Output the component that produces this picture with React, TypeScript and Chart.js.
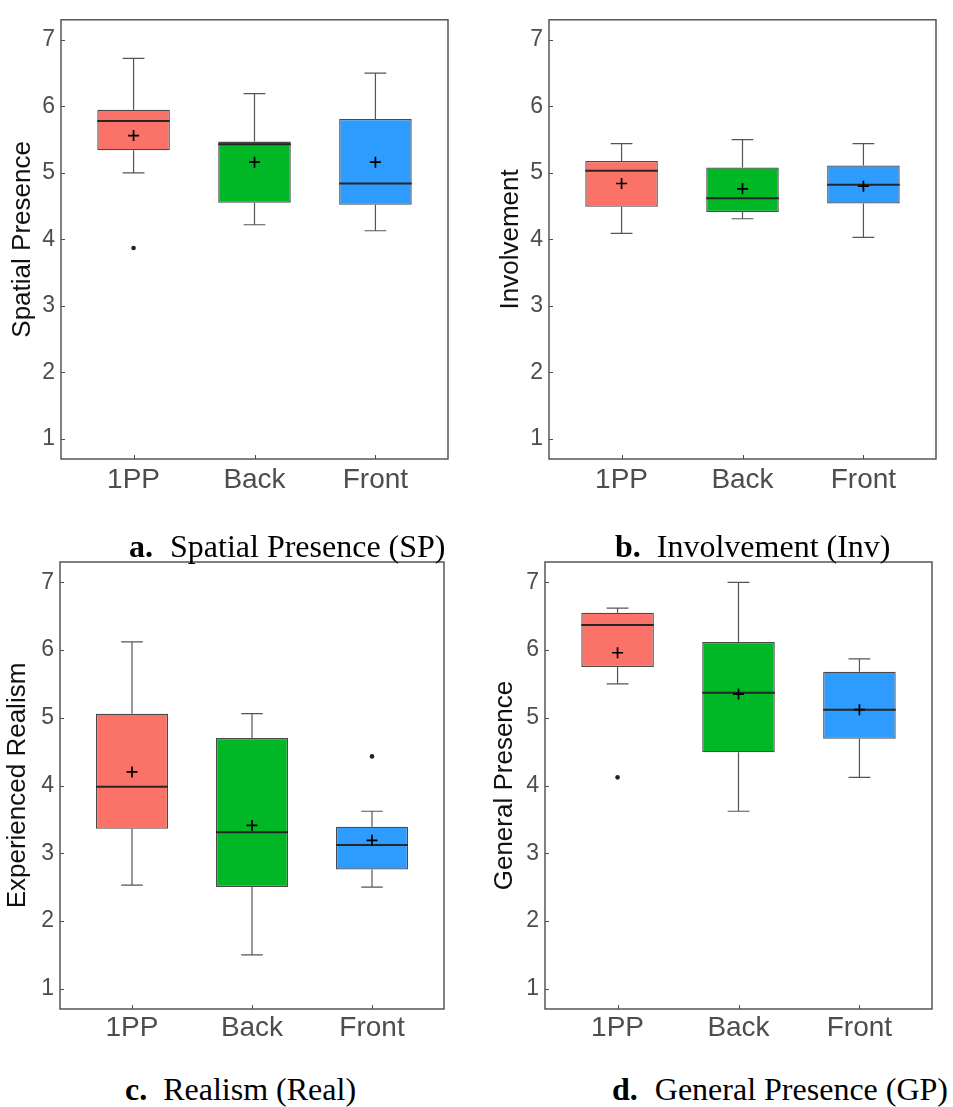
import React, { useEffect, useRef } from 'react';
import { Chart, registerables } from 'chart.js';

Chart.register(...registerables);

// ---------- data ----------
const CATEGORIES = ['1PP', 'Back', 'Front'];
const Y_TICKS = [1, 2, 3, 4, 5, 6, 7];

// a. Spatial Presence
const SP_MIN = [5.0, 4.22, 4.13];
const SP_Q1 = [5.34, 4.55, 4.52];
const SP_MED = [5.78, 5.43, 4.84];
const SP_Q3 = [5.95, 5.47, 5.81];
const SP_MAX = [6.72, 6.19, 6.5];
const SP_MEAN = [5.56, 5.16, 5.16];
const SP_OUT = [[3.87], [], []];

// b. Involvement
const INV_MIN = [4.09, 4.31, 4.03];
const INV_Q1 = [4.49, 4.41, 4.54];
const INV_MED = [5.03, 4.62, 4.82];
const INV_Q3 = [5.18, 5.08, 5.11];
const INV_MAX = [5.44, 5.5, 5.44];
const INV_MEAN = [4.84, 4.76, 4.8];
const INV_OUT = [[], [], []];

// c. Realism
const REAL_MIN = [2.53, 1.5, 2.5];
const REAL_Q1 = [3.36, 2.5, 2.76];
const REAL_MED = [3.98, 3.31, 3.12];
const REAL_Q3 = [5.06, 4.7, 3.39];
const REAL_MAX = [6.12, 5.06, 3.62];
const REAL_MEAN = [4.2, 3.41, 3.19];
const REAL_OUT = [[], [], [4.43]];

// d. General Presence
const GP_MIN = [5.5, 3.62, 4.12];
const GP_Q1 = [5.75, 4.49, 4.69];
const GP_MED = [6.37, 5.37, 5.12];
const GP_Q3 = [6.55, 6.12, 5.68];
const GP_MAX = [6.62, 7.0, 5.87];
const GP_MEAN = [5.96, 5.35, 5.12];
const GP_OUT = [[4.12], [], []];

// ---------- styles ----------
const BOX_COLORS = ['#FA7268', '#00B726', '#2E9BFF'];
const SANS = "'Liberation Sans', Arial, Helvetica, sans-serif";
const SERIF = "'Liberation Serif', 'Times New Roman', Times, serif";
const TICK_COLOR = '#4D4D4D';
const FRAME_COLOR = '#4A4A4A';

type PanelDef = {
  title: string;
  min: number[];
  q1: number[];
  med: number[];
  q3: number[];
  max: number[];
  mean: number[];
  out: number[][];
  box: { left: number; top: number; width: number; height: number };
  pad: { left: number; right: number; top: number };
  yWidth: number;
  xHeight: number;
  titleOffset: number;
  xPad: number;
};

const PANELS: PanelDef[] = [
  {
    title: 'Spatial Presence', min: SP_MIN, q1: SP_Q1, med: SP_MED, q3: SP_Q3, max: SP_MAX, mean: SP_MEAN, out: SP_OUT,
    box: { left: 0, top: 0, width: 470, height: 500 }, pad: { left: 0, right: 22, top: 12 }, yWidth: 61, xHeight: 41, titleOffset: 7, xPad: 4,
  },
  {
    title: 'Involvement', min: INV_MIN, q1: INV_Q1, med: INV_MED, q3: INV_Q3, max: INV_MAX, mean: INV_MEAN, out: INV_OUT,
    box: { left: 470, top: 0, width: 483, height: 500 }, pad: { left: 18, right: 17, top: 12 }, yWidth: 61, xHeight: 41, titleOffset: 7, xPad: 4,
  },
  {
    title: 'Experienced Realism', min: REAL_MIN, q1: REAL_Q1, med: REAL_MED, q3: REAL_Q3, max: REAL_MAX, mean: REAL_MEAN, out: REAL_OUT,
    box: { left: 0, top: 510, width: 470, height: 540 }, pad: { left: 0, right: 26, top: 52 }, yWidth: 60, xHeight: 41, titleOffset: 2.4, xPad: 2,
  },
  {
    title: 'General Presence', min: GP_MIN, q1: GP_Q1, med: GP_MED, q3: GP_Q3, max: GP_MAX, mean: GP_MEAN, out: GP_OUT,
    box: { left: 470, top: 510, width: 483, height: 540 }, pad: { left: 14, right: 21, top: 52 }, yWidth: 61, xHeight: 41, titleOffset: 5.7, xPad: 2,
  },
];

const CAPTIONS = [
  { label: 'a.', text: 'Spatial Presence (SP)', left: 129, top: 530, gap: 17 },
  { label: 'b.', text: 'Involvement (Inv)', left: 615, top: 530, gap: 16 },
  { label: 'c.', text: 'Realism (Real)', left: 125, top: 1073, gap: 16 },
  { label: 'd.', text: 'General Presence (GP)', left: 612, top: 1073, gap: 17 },
];

function makeExtras(p: PanelDef) {
  const capHalf = 0.09;
  const boxHalf = 0.3;
  return {
    id: 'boxExtras',
    beforeDatasetsDraw(chart: any) {
      const { ctx, scales } = chart;
      const x = scales.x, y = scales.y;
      ctx.save();
      ctx.strokeStyle = '#555555';
      ctx.lineWidth = 1.2;
      p.q1.forEach((_, i) => {
        const xc = x.getPixelForValue(i + 1);
        const xl = x.getPixelForValue(i + 1 - capHalf);
        const xr = x.getPixelForValue(i + 1 + capHalf);
        const yMax = y.getPixelForValue(p.max[i]);
        const yMin = y.getPixelForValue(p.min[i]);
        ctx.beginPath();
        ctx.moveTo(xc, y.getPixelForValue(p.q3[i]));
        ctx.lineTo(xc, yMax);
        ctx.moveTo(xl, yMax);
        ctx.lineTo(xr, yMax);
        ctx.moveTo(xc, y.getPixelForValue(p.q1[i]));
        ctx.lineTo(xc, yMin);
        ctx.moveTo(xl, yMin);
        ctx.lineTo(xr, yMin);
        ctx.stroke();
      });
      ctx.restore();
    },
    afterDatasetDraw(chart: any, args: any) {
      if (args.index !== 0) return;
      const { ctx, scales } = chart;
      const x = scales.x, y = scales.y;
      ctx.save();
      ctx.strokeStyle = '#262626';
      ctx.lineWidth = 2;
      p.med.forEach((m, i) => {
        const yy = y.getPixelForValue(m);
        ctx.beginPath();
        ctx.moveTo(x.getPixelForValue(i + 1 - boxHalf), yy);
        ctx.lineTo(x.getPixelForValue(i + 1 + boxHalf), yy);
        ctx.stroke();
      });
      ctx.restore();
    },
    afterDraw(chart: any) {
      const { ctx, chartArea: a, scales } = chart;
      const x = scales.x, y = scales.y;
      ctx.save();
      ctx.strokeStyle = TICK_COLOR;
      ctx.lineWidth = 1;
      ctx.beginPath();
      Y_TICKS.forEach((v) => {
        const yy = Math.round(y.getPixelForValue(v)) + 0.5;
        ctx.moveTo(a.left, yy);
        ctx.lineTo(a.left + 4, yy);
      });
      CATEGORIES.forEach((_, i) => {
        const xx = Math.round(x.getPixelForValue(i + 1)) + 0.5;
        ctx.moveTo(xx, a.bottom);
        ctx.lineTo(xx, a.bottom - 4);
      });
      ctx.stroke();
      ctx.strokeStyle = FRAME_COLOR;
      ctx.lineWidth = 1.4;
      ctx.strokeRect(a.left, a.top, a.right - a.left, a.bottom - a.top);
      ctx.restore();
    },
  };
}

function Panel({ p }: { p: PanelDef }) {
  const ref = useRef<HTMLCanvasElement | null>(null);
  useEffect(() => {
    if (!ref.current) return;
    const boxes = CATEGORIES.map((_, i) => ({ x: i + 1, y: [p.q1[i], p.q3[i]] }));
    const means = CATEGORIES.map((_, i) => ({ x: i + 1, y: p.mean[i] }));
    const outs: { x: number; y: number }[] = [];
    p.out.forEach((arr, i) => arr.forEach((v) => outs.push({ x: i + 1, y: v })));
    const chart = new Chart(ref.current, {
      type: 'bar',
      data: {
        datasets: [
          {
            type: 'bar',
            data: boxes as any,
            backgroundColor: BOX_COLORS,
            borderColor: '#4A4A4A',
            borderWidth: 1.3,
            borderSkipped: false,
            barPercentage: 0.6,
            categoryPercentage: 1,
            order: 3,
          } as any,
          {
            type: 'scatter',
            data: means,
            pointStyle: 'cross',
            pointRadius: 5.5,
            borderColor: '#000000',
            backgroundColor: '#000000',
            borderWidth: 1.7,
            order: 1,
          } as any,
          {
            type: 'scatter',
            data: outs,
            pointStyle: 'circle',
            pointRadius: 2.3,
            borderWidth: 0,
            backgroundColor: '#222222',
            order: 1,
          } as any,
        ],
      },
      options: {
        animation: false,
        responsive: false,
        events: [],
        layout: { padding: { left: p.pad.left, right: p.pad.right, top: p.pad.top, bottom: 0 } },
        plugins: { legend: { display: false }, tooltip: { enabled: false } },
        scales: {
          x: {
            type: 'linear',
            min: 0.4,
            max: 3.6,
            offset: false,
            grid: { display: false, drawTicks: false, offset: false },
            border: { display: false },
            ticks: {
              autoSkip: false,
              maxRotation: 0,
              padding: p.xPad,
              color: TICK_COLOR,
              font: { family: SANS, size: 28 },
              callback: (v: any) => CATEGORIES[Number(v) - 1] ?? '',
            },
            afterBuildTicks: (s: any) => {
              s.ticks = CATEGORIES.map((_, i) => ({ value: i + 1 }));
            },
            afterFit: (s: any) => {
              s.height = p.xHeight;
            },
          },
          y: {
            type: 'linear',
            min: 0.7,
            max: 7.3,
            grid: { display: false, drawTicks: false },
            border: { display: false },
            ticks: {
              padding: 6,
              color: TICK_COLOR,
              font: { family: SANS, size: 23 },
            },
            afterBuildTicks: (s: any) => {
              s.ticks = Y_TICKS.map((v) => ({ value: v }));
            },
            afterFit: (s: any) => {
              s.width = p.yWidth;
            },
            title: {
              display: true,
              text: p.title,
              color: '#111111',
              font: { family: SANS, size: 26 },
              padding: { top: p.titleOffset, bottom: 0 },
            },
          },
        },
      } as any,
      plugins: [makeExtras(p) as any],
    });
    return () => chart.destroy();
  }, [p]);
  return (
    <canvas
      ref={ref}
      width={p.box.width}
      height={p.box.height}
      style={{
        position: 'absolute',
        left: p.box.left,
        top: p.box.top,
        width: p.box.width,
        height: p.box.height,
      }}
    />
  );
}

export default function App() {
  return (
    <div
      style={{
        position: 'absolute',
        left: 0,
        top: 0,
        width: 953,
        height: 1107,
        background: '#ffffff',
        overflow: 'hidden',
      }}
    >
      {PANELS.map((p, i) => (
        <Panel key={i} p={p} />
      ))}
      {CAPTIONS.map((c, i) => (
        <div
          key={'c' + i}
          style={{
            position: 'absolute',
            left: c.left,
            top: c.top,
            fontFamily: SERIF,
            fontSize: 32,
            lineHeight: '32px',
            whiteSpace: 'nowrap',
            color: '#000000',
          }}
        >
          <b>{c.label}</b>
          <span style={{ marginLeft: c.gap }}>{c.text}</span>
        </div>
      ))}
    </div>
  );
}
